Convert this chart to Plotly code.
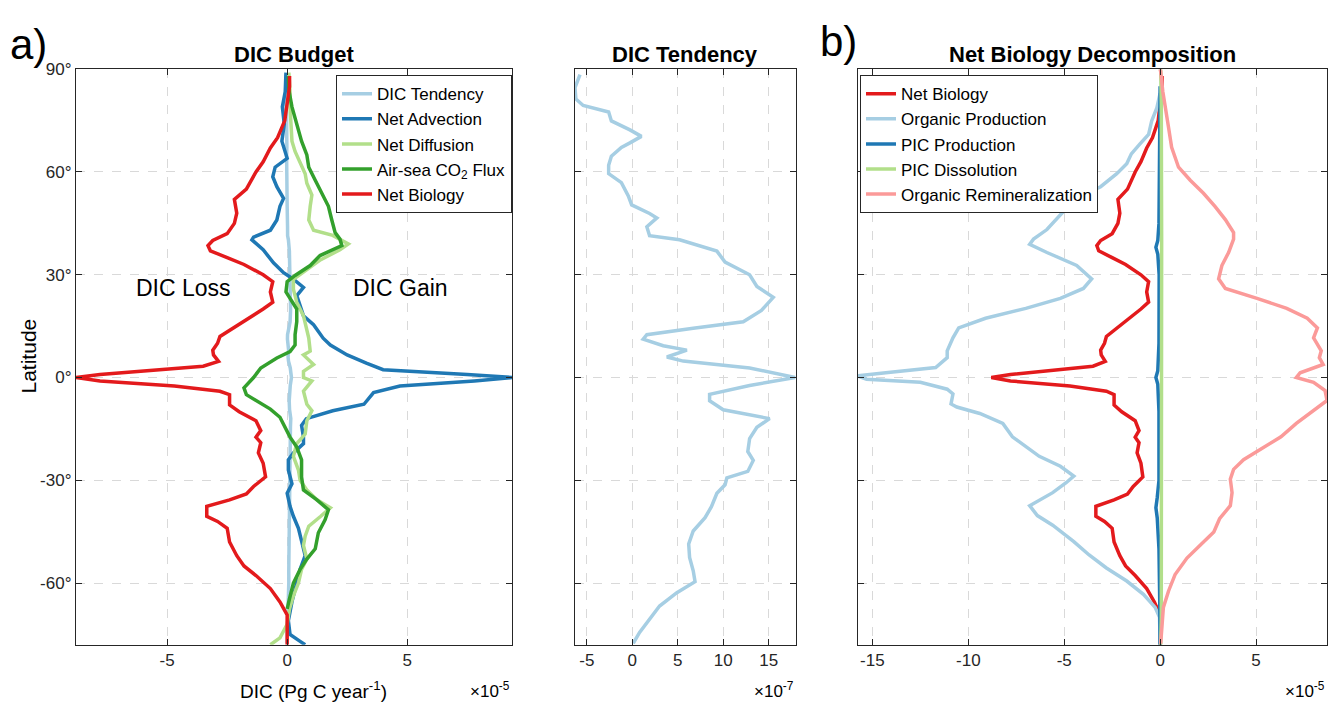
import plotly.graph_objects as go

# ---- data (DIC budget terms, units of 1e-5 Pg C / year, except tendency in 1e-7) ----
lat_net_biology = [88, 85, 80, 75, 70, 67, 63, 60, 55, 52, 48, 45, 42, 40, 38.5, 37, 35, 33, 30, 28,
                   25, 22, 20, 17, 15, 12, 10, 8, 6.6, 4.7, 3.3, 2.3, 0.9, 0, -1, -2.5, -4, -5, -8, -10,
                   -12.6, -15.5, -17.4, -19, -22, -25, -29, -31.8, -34, -35.7, -37.6, -40.5, -42, -44,
                   -48, -52, -55, -57.8, -61.6, -65.5, -69.3, -78]
net_biology = [0.1, 0.1, 0.0, -0.1, -0.4, -0.7, -1.0, -1.3, -1.7, -2.2, -2.1, -2.2, -2.5, -3.1, -3.3,
               -3.2, -2.5, -1.8, -1.0, -0.6, -0.7, -0.6, -1.0, -1.7, -2.1, -2.8, -2.9, -3.1, -3.07,
               -2.86, -3.5, -5.3, -7.8, -8.8, -7.8, -4.7, -2.8, -2.4, -2.4, -2.0, -1.3, -1.1, -1.3,
               -1.1, -1.2, -1.0, -0.9, -1.4, -1.7, -2.4, -3.35, -3.35, -2.9, -2.5, -2.4, -2.1, -1.8,
               -1.3, -0.7, -0.3, 0.0, 0.0]

lat_advection = [89, 83.5, 79, 74, 69, 66, 64, 61.4, 58.6, 55.7, 52.3, 50, 46, 43, 41, 40.2, 37.3, 33.5,
                 30.6, 28.7, 26.3, 23.9, 21, 18, 15.4, 11.5, 9.5, 6.6, 4.2, 2.3, 0.9, 0, -1, -2.5, -4.4,
                 -7.8, -9.7, -12, -14, -17.4, -19.3, -22, -24, -27, -31, -33.8, -37.6, -40.5, -44, -48,
                 -52, -56, -60, -65.5, -71, -75, -77, -78]
net_advection = [-0.05, -0.08, -0.2, -0.12, -0.22, -0.08, 0.0, -0.5, -0.6, -0.43, -0.15, -0.3, -0.43,
                 -0.7, -1.4, -1.47, -1.0, -0.57, -0.15, 0.26, 0.68, 0.4, 0.54, 0.68, 1.1, 1.5, 1.8, 2.5,
                 3.3, 4.0, 7.5, 9.4, 7.8, 4.7, 3.6, 3.2, 1.9, 0.8, 0.6, 0.68, 0.68, 0.26, 0.05, 0.05,
                 0.2, 0.0, 0.12, 0.26, 0.47, 0.6, 0.75, 0.54, 0.4, 0.2, 0.05, 0.12, 0.54, 0.75]

lat_diffusion = [89, 83.5, 79, 74, 69, 66, 62, 59.5, 56.7, 53.3, 50, 46, 43, 41.5, 39, 37.3, 34.4, 31.5,
                 28.7, 25.8, 22, 18, 14.4, 11.5, 7.7, 6.6, 3.8, 1.8, 0, -1, -4, -7.8, -9.7, -12.6,
                 -16.5, -19.3, -23, -27, -30, -32.8, -35.7, -38, -40.5, -43.4, -46.3, -49, -53, -56,
                 -60, -63.7, -67.5, -72, -76, -78]
net_diffusion = [0.07, 0.12, 0.12, 0.15, 0.2, 0.33, 0.6, 0.75, 0.82, 1.03, 0.96, 0.9, 1.1, 1.9, 2.55,
                 2.2, 1.4, 0.82, 0.26, 0.26, 0.4, 0.68, 0.82, 0.9, 0.96, 0.68, 1.1, 0.68, 0.68, 1.03,
                 0.68, 0.82, 1.03, 0.82, 0.75, 0.4, 0.26, 0.47, 0.54, 0.82, 1.24, 1.8, 1.4, 0.9, 0.75,
                 0.68, 0.82, 0.6, 0.47, 0.26, 0.1, 0.0, -0.3, -0.7]

lat_air_sea = [88, 84, 79, 74, 69, 65, 61.4, 57.6, 53.8, 50, 46, 42.3, 40.4, 38.5, 35.6, 32.7, 29.8, 28,
               25, 23, 20, 16.3, 12.5, 9.5, 7.6, 5.7, 2.8, 0, -3, -5, -6.8, -9.2, -11.6, -14.5, -17.4,
               -20.3, -24, -29, -32.8, -35.7, -38.6, -41.5, -45.3, -50, -53, -56, -60, -64.5, -67.5]
air_sea_flux = [0.05, 0.07, 0.2, 0.4, 0.6, 0.82, 0.9, 1.17, 1.44, 1.72, 1.86, 2.0, 2.2, 2.28, 1.37,
                0.96, 0.33, 0.0, -0.05, 0.12, 0.4, 0.4, 0.33, 0.33, 0.12, -0.43, -1.1, -1.4, -1.8,
                -1.7, -1.26, -0.7, -0.3, -0.08, 0.12, 0.4, 0.6, 0.6, 0.68, 1.24, 1.72, 1.58, 1.3,
                1.17, 0.82, 0.54, 0.26, 0.1, 0.0]

# DIC tendency, units of 1e-7
lat_tendency = [88.4, 84.6, 81.3, 79.4, 77.5, 74.9, 72.3, 70.4, 68.5, 67.2, 64.6, 62, 59.5, 56.9, 53,
                50.4, 47.9, 46.6, 44, 41.4, 40.2, 36.9, 33.7, 30, 26.6, 23.4, 19.6, 16.3, 14.4, 12.5,
                11.2, 9.3, 8, 6, 4.8, 2.8, 0, -2.3, -4.9, -6.8, -9.4, -12, -14.5, -17.8, -21.6, -24.2,
                -27.4, -29.3, -31.3, -33.8, -37.7, -40.9, -44.8, -48.6, -52.5, -56.4, -59.6, -62.8,
                -66.7, -70.5, -74.4, -77.6]
dic_tendency = [-5.75, -6.3, -6.2, -5.4, -2.6, -2.3, -0.26, 1.0, -0.26, -1.2, -2.3, -2.6, -2.6, -1.2,
                -0.44, -0.07, 1.9, 2.7, 1.6, 1.9, 5.2, 9.3, 10.2, 12.9, 13.7, 15.5, 14.2, 12.2, 6.7,
                1.6, 1.2, 3.4, 6.0, 3.8, 5.6, 12.9, 17.9, 12.9, 8.5, 8.5, 10.0, 15.1, 13.7, 12.9, 12.7,
                13.3, 12.7, 10.4, 10.2, 9.3, 8.7, 8.0, 6.7, 6.2, 6.3, 6.7, 6.9, 4.9, 3.0, 1.9, 0.8, 0.1]

lat_org_prod = [83, 78.7, 74.9, 71, 68.2, 65.3, 62.4, 59.5, 55.7, 52.8, 49.9, 47, 43.2, 40.4, 38.9, 36.5,
                32.7, 28.8, 26, 23.1, 20.2, 17.3, 14.5, 11.6, 7.8, 5.8, 2.9, 1.4, 0.5, -0.5, -1.4, -3.4,
                -4.8, -7.7, -8.6, -10.5, -13.4, -17.3, -20.1, -23, -25.9, -28.8, -30.7, -33.6, -37.4,
                -40.3, -43.1, -47.9, -51.8, -55.6, -59.4, -63.3, -67.1, -70, -78]
organic_production = [0.0, -0.17, -0.44, -0.6, -1.05, -1.5, -1.74, -2.26, -3.1, -4.2, -4.8, -5.3, -5.9,
                      -6.6, -6.8, -5.9, -4.35, -3.57, -4.0, -5.2, -7.0, -9.1, -10.5, -10.8, -11.1,
                      -11.1, -11.7, -14.3, -15.8, -15.3, -12.5, -11.1, -10.8, -10.9, -10.6, -9.4, -8.2,
                      -7.7, -7.0, -6.3, -5.2, -4.5, -4.9, -5.6, -6.8, -6.4, -5.6, -4.5, -3.7, -2.8,
                      -1.74, -0.87, -0.26, -0.03, 0.0]

lat_pic_prod = [85, 60, 45, 40, 38, 36, 30, 10, 2, 0, -2, -10, -30, -35, -38, -41, -50, -65, -78]
pic_production = [0.0, -0.04, -0.06, -0.12, -0.22, -0.12, -0.05, -0.06, -0.12, -0.22, -0.12, -0.06,
                  -0.06, -0.15, -0.22, -0.15, -0.06, -0.02, 0.0]

lat_pic_diss = [90, 80, 40, 0, -40, -70, -78]
pic_dissolution = [0.03, 0.06, 0.08, 0.08, 0.08, 0.06, 0.03]

lat_org_remin = [90, 89.3, 83.5, 78.7, 73, 67.2, 61.4, 57.6, 53.8, 49.9, 46.1, 42.3, 40.4, 36.5, 32.7,
                 28.8, 26, 23.1, 20.2, 17.3, 14.5, 11.6, 7.8, 5.8, 3.8, 1.4, 0, -1.4, -3.8, -6.7, -9.6,
                 -13.4, -17.3, -21.1, -24, -26.8, -29.7, -33.6, -37.4, -41.2, -45.1, -48.9, -52.7,
                 -57.5, -62.3, -67.1, -71.9, -77.7]
organic_remineralization = [0.0, 0.03, 0.14, 0.26, 0.44, 0.6, 0.96, 1.57, 2.26, 2.87, 3.4, 3.83, 3.83,
                            3.57, 3.22, 3.05, 3.4, 5.05, 6.6, 7.67, 8.2, 8.0, 8.4, 8.3, 8.5, 7.3, 7.1,
                            8.0, 8.6, 8.7, 8.0, 7.1, 6.3, 5.2, 4.35, 3.83, 3.66, 3.75, 3.66, 3.1, 2.8,
                            2.1, 1.4, 0.78, 0.44, 0.17, 0.09, 0.03]

lat_ticks = [-60, -30, 0, 30, 60, 90]
lat_tick_labels = ['-60°', '-30°', '0°', '30°', '60°', '90°']

# ColorBrewer "Paired"
LIGHT_BLUE = '#a6cee3'
BLUE = '#1f78b4'
LIGHT_GREEN = '#b2df8a'
GREEN = '#33a02c'
PINK = '#fb9a99'
RED = '#e31a1c'
AX = '#262626'
LW = 3.5

W, H = 1338, 703


def px_x(p):
    return p / W


def px_y(p):
    return 1 - p / H


fig = go.Figure()

# panel a) DIC budget
a_series = [
    ('DIC Tendency', [v / 100 for v in dic_tendency], lat_tendency, LIGHT_BLUE),
    ('Net Advection', net_advection, lat_advection, BLUE),
    ('Net Diffusion', net_diffusion, lat_diffusion, LIGHT_GREEN),
    ('Air-sea CO<sub>2</sub> Flux', air_sea_flux, lat_air_sea, GREEN),
    ('Net Biology', net_biology, lat_net_biology, RED),
]
for name, x, y, c in a_series:
    fig.add_trace(go.Scatter(x=x, y=y, mode='lines', name=name, line=dict(color=c, width=LW),
                             xaxis='x', yaxis='y', legend='legend'))

# middle panel: DIC tendency alone
fig.add_trace(go.Scatter(x=dic_tendency, y=lat_tendency, mode='lines', name='DIC Tendency',
                         line=dict(color=LIGHT_BLUE, width=LW), xaxis='x2', yaxis='y2', showlegend=False))

# panel b) net biology decomposition
c_series = [
    ('Net Biology', net_biology, lat_net_biology, RED),
    ('Organic Production', organic_production, lat_org_prod, LIGHT_BLUE),
    ('PIC Production', pic_production, lat_pic_prod, BLUE),
    ('PIC Dissolution', pic_dissolution, lat_pic_diss, LIGHT_GREEN),
    ('Organic Remineralization', organic_remineralization, lat_org_remin, PINK),
]
for name, x, y, c in c_series:
    fig.add_trace(go.Scatter(x=x, y=y, mode='lines', name=name, line=dict(color=c, width=LW),
                             xaxis='x3', yaxis='y3', legend='legend2'))

axis_style = dict(showline=True, linecolor=AX, linewidth=1.3, mirror='ticks', ticks='inside',
                  ticklen=6, tickcolor=AX, tickwidth=1.2, tickfont=dict(size=17, color=AX),
                  showgrid=True, gridcolor='#d9d9d9', griddash='dash', gridwidth=1, zeroline=False)

y_dom = [px_y(644), px_y(61)]
legend_style = dict(xanchor='left', yanchor='top', bgcolor='white', bordercolor=AX, borderwidth=1,
                    font=dict(size=17, color='black'), itemwidth=30, tracegroupgap=0)

fig.update_layout(
    width=W, height=H,
    margin=dict(l=0, r=0, t=0, b=0),
    paper_bgcolor='white', plot_bgcolor='white',
    font=dict(family='Liberation Sans, Arial, sans-serif', color=AX),
    xaxis=dict(axis_style, domain=[px_x(76), px_x(512)], range=[-8.8, 9.37], anchor='y',
               tickvals=[-5, 0, 5], ticktext=['-5', '0', '5']),
    yaxis=dict(axis_style, domain=y_dom, range=[-78, 90], anchor='x',
               tickvals=lat_ticks, ticktext=lat_tick_labels),
    xaxis2=dict(axis_style, domain=[px_x(575), px_x(796)], range=[-6.3, 18.0], anchor='y2',
                tickvals=[-5, 0, 5, 10, 15], ticktext=['-5', '0', '5', '10', '15']),
    yaxis2=dict(axis_style, domain=y_dom, range=[-78, 90], anchor='x2',
                tickvals=lat_ticks, showticklabels=False),
    xaxis3=dict(axis_style, domain=[px_x(858), px_x(1327)], range=[-15.75, 8.7], anchor='y3',
                tickvals=[-15, -10, -5, 0, 5], ticktext=['-15', '-10', '-5', '0', '5']),
    yaxis3=dict(axis_style, domain=y_dom, range=[-78, 90], anchor='x3',
                tickvals=lat_ticks, showticklabels=False),
    legend=dict(legend_style, x=px_x(336), y=px_y(67)),
    legend2=dict(legend_style, x=px_x(860), y=px_y(67)),
)

notes = [
    ('a)', 8, 36, 42, 'left', 0),
    ('b)', 818, 33, 42, 'left', 0),
    ('<b>DIC Budget</b>', 294, 46, 22, 'center', 0),
    ('<b>DIC Tendency</b>', 685, 46, 22, 'center', 0),
    ('<b>Net Biology Decomposition</b>', 1092, 46, 22, 'center', 0),
    ('DIC Loss', 183, 283, 23, 'center', 0),
    ('DIC Gain', 400, 283, 23, 'center', 0),
    ('DIC (Pg C year<sup>-1</sup>)', 313, 690, 19, 'center', 0),
    ('×10<sup>-5</sup>', 512, 690, 17, 'right', 0),
    ('×10<sup>-7</sup>', 796, 690, 17, 'right', 0),
    ('×10<sup>-5</sup>', 1327, 690, 17, 'right', 0),
    ('Latitude', 28, 352, 21, 'center', -90),
]
for text, x, y, size, anchor, angle in notes:
    fig.add_annotation(text=text, x=px_x(x), y=px_y(y), xref='paper', yref='paper',
                       xanchor=anchor, yanchor='middle', showarrow=False, textangle=angle,
                       font=dict(size=size, color='black'))

fig.write_html("out.html", config={'displayModeBar': False},
               post_script="document.body.style.margin='0px';")
